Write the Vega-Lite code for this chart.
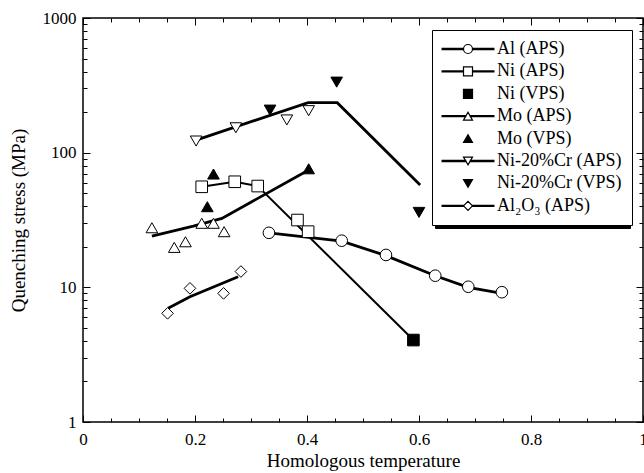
{
  "$schema": "https://vega.github.io/schema/vega-lite/v6.json",
  "width": 560,
  "height": 404,
  "autosize": {"type": "none"},
  "padding": {"left": 83, "top": 18, "right": 1, "bottom": 51},
  "background": "white",
  "config": {
    "font": "Liberation Serif",
    "view": {"stroke": "black", "strokeWidth": 1.5},
    "axis": {
      "domain": false, "grid": false, "tickColor": "black", "tickWidth": 1,
      "labelColor": "black", "labelFontSize": 17, "labelFont": "Liberation Serif",
      "titleFont": "Liberation Serif", "titleFontSize": 19, "titleFontWeight": "normal", "titleColor": "black",
      "labelFlush": false, "labelOverlap": false
    },
    "legend": {"labelFont": "Liberation Serif", "labelFontSize": 18, "labelColor": "black"}
  },
  "datasets": {
    "pts": [
      {"series": "Al (APS)", "x": 0.332, "y": 25.4},
      {"series": "Al (APS)", "x": 0.462, "y": 22.2},
      {"series": "Al (APS)", "x": 0.541, "y": 17.4},
      {"series": "Al (APS)", "x": 0.629, "y": 12.2},
      {"series": "Al (APS)", "x": 0.688, "y": 10.1},
      {"series": "Al (APS)", "x": 0.748, "y": 9.2},
      {"series": "Ni (APS)", "x": 0.212, "y": 55.8},
      {"series": "Ni (APS)", "x": 0.271, "y": 60.8},
      {"series": "Ni (APS)", "x": 0.312, "y": 56.5},
      {"series": "Ni (APS)", "x": 0.383, "y": 31.6},
      {"series": "Ni (APS)", "x": 0.402, "y": 25.9},
      {"series": "Ni (VPS)", "x": 0.590, "y": 4.06},
      {"series": "Mo (APS)", "x": 0.123, "y": 27.7},
      {"series": "Mo (APS)", "x": 0.163, "y": 19.8},
      {"series": "Mo (APS)", "x": 0.183, "y": 21.8},
      {"series": "Mo (APS)", "x": 0.212, "y": 29.9},
      {"series": "Mo (APS)", "x": 0.233, "y": 29.9},
      {"series": "Mo (APS)", "x": 0.252, "y": 25.9},
      {"series": "Mo (VPS)", "x": 0.233, "y": 69.4},
      {"series": "Mo (VPS)", "x": 0.222, "y": 39.7},
      {"series": "Mo (VPS)", "x": 0.403, "y": 75.9},
      {"series": "Ni-20%Cr (APS)", "x": 0.202, "y": 122},
      {"series": "Ni-20%Cr (APS)", "x": 0.273, "y": 153},
      {"series": "Ni-20%Cr (APS)", "x": 0.364, "y": 175},
      {"series": "Ni-20%Cr (APS)", "x": 0.403, "y": 205},
      {"series": "Ni-20%Cr (VPS)", "x": 0.334, "y": 207},
      {"series": "Ni-20%Cr (VPS)", "x": 0.453, "y": 334},
      {"series": "Ni-20%Cr (VPS)", "x": 0.600, "y": 36},
      {"series": "Al₂O₃ (APS)", "x": 0.151, "y": 6.41},
      {"series": "Al₂O₃ (APS)", "x": 0.191, "y": 9.83},
      {"series": "Al₂O₃ (APS)", "x": 0.251, "y": 9.02},
      {"series": "Al₂O₃ (APS)", "x": 0.282, "y": 13.1}
    ],
    "fits": [
      {"fit": "NiCr", "i": 1, "x": 0.202, "y": 124},
      {"fit": "NiCr", "i": 2, "x": 0.402, "y": 235},
      {"fit": "NiCr", "i": 3, "x": 0.454, "y": 235},
      {"fit": "NiCr", "i": 4, "x": 0.602, "y": 57.5},
      {"fit": "Mo", "i": 1, "x": 0.123, "y": 24.0},
      {"fit": "Mo", "i": 2, "x": 0.197, "y": 28.5},
      {"fit": "Mo", "i": 3, "x": 0.248, "y": 32.5},
      {"fit": "Mo", "i": 4, "x": 0.403, "y": 74.3},
      {"fit": "Ni", "i": 1, "x": 0.212, "y": 55.8},
      {"fit": "Ni", "i": 2, "x": 0.271, "y": 60.8},
      {"fit": "Ni", "i": 3, "x": 0.312, "y": 56.5},
      {"fit": "Ni", "i": 4, "x": 0.590, "y": 4.06},
      {"fit": "Al", "i": 1, "x": 0.332, "y": 25.4},
      {"fit": "Al", "i": 2, "x": 0.462, "y": 22.0},
      {"fit": "Al", "i": 3, "x": 0.541, "y": 17.2},
      {"fit": "Al", "i": 4, "x": 0.629, "y": 12.2},
      {"fit": "Al", "i": 5, "x": 0.688, "y": 10.0},
      {"fit": "Al", "i": 6, "x": 0.748, "y": 9.0},
      {"fit": "Al2O3", "i": 1, "x": 0.152, "y": 6.98},
      {"fit": "Al2O3", "i": 2, "x": 0.191, "y": 8.51},
      {"fit": "Al2O3", "i": 3, "x": 0.277, "y": 12.0}
    ]
  },
  "layer": [
    {
      "data": {"name": "fits"},
      "transform": [{"filter": "datum.fit !== 'Ni'"}],
      "mark": {"type": "line", "color": "black", "strokeWidth": 2.8, "strokeCap": "butt"},
      "encoding": {
        "x": {
          "field": "x", "type": "quantitative",
          "scale": {"domain": [0, 1], "nice": false, "zero": false},
          "axis": {
            "orient": "bottom",
            "values": [0, 0.05, 0.1, 0.15, 0.2, 0.25, 0.3, 0.35, 0.4, 0.45, 0.5, 0.55, 0.6, 0.65, 0.7, 0.75, 0.8, 0.85, 0.9, 0.95, 1],
            "format": "~g",
            "labelExpr": "indexof([0,0.2,0.4,0.6,0.8,1], datum.value) >= 0 ? datum.label : ''",
            "tickSize": {"expr": "indexof([0,0.2,0.4,0.6,0.8,1], datum.value) >= 0 ? -7 : -4"},
            "labelPadding": 16,
            "title": "Homologous temperature",
            "titleX": 280, "titleY": 44, "titleBaseline": "alphabetic", "titleAnchor": "middle"
          }
        },
        "y": {
          "field": "y", "type": "quantitative",
          "scale": {"type": "log", "domain": [1, 1000], "nice": false},
          "axis": {
            "orient": "left",
            "values": [1, 2, 3, 4, 5, 6, 7, 8, 9, 10, 20, 30, 40, 50, 60, 70, 80, 90, 100, 200, 300, 400, 500, 600, 700, 800, 900, 1000],
            "format": "d",
            "labelExpr": "indexof([1,10,100,1000], datum.value) >= 0 ? datum.label : ''",
            "tickSize": {"expr": "indexof([1,10,100,1000], datum.value) >= 0 ? -7 : -4"},
            "labelPadding": 14,
            "title": "Quenching stress (MPa)",
            "titleX": -59, "titleY": 202, "titleBaseline": "alphabetic", "titleAngle": -90, "titleAnchor": "middle"
          }
        },
        "detail": {"field": "fit"},
        "order": {"field": "i"}
      }
    },
    {
      "data": {"name": "fits"},
      "transform": [{"filter": "datum.fit === 'Ni'"}],
      "mark": {"type": "line", "color": "black", "strokeWidth": 2, "strokeCap": "butt"},
      "encoding": {
        "x": {"field": "x", "type": "quantitative", "axis": null},
        "y": {"field": "y", "type": "quantitative", "axis": null},
        "order": {"field": "i"}
      }
    },
    {
      "data": {"name": "pts"},
      "mark": {
        "type": "point", "filled": true, "stroke": "black", "strokeWidth": 1, "size": 135, "opacity": 1,
        "shape": {"expr": "datum.value==='Al (APS)'?'M-5.75,-0.125H-1V0.125H-5.75Z M1,-0.125H5.75V0.125H1Z M-1,0A1,1,0,1,1,1,0A1,1,0,1,1,-1,0Z':datum.value==='Ni (APS)'?'M-5.75,-0.125H-1V0.125H-5.75Z M1,-0.125H5.75V0.125H1Z M-1,-1H1V1H-1Z':datum.value==='Ni (VPS)'?'square':datum.value==='Mo (APS)'?'M-5.75,-0.125H-0.5V0.125H-5.75Z M0.5,-0.125H5.75V0.125H0.5Z M0,-0.866L1,0.866H-1Z':datum.value==='Mo (VPS)'?'triangle-up':datum.value==='Ni-20%Cr (APS)'?'M-5.75,-0.125H-0.5V0.125H-5.75Z M0.5,-0.125H5.75V0.125H0.5Z M0,0.866L1,-0.866H-1Z':datum.value==='Ni-20%Cr (VPS)'?'triangle-down':datum.value==='Al₂O₃ (APS)'?'M-5.75,-0.125H-1V0.125H-5.75Z M1,-0.125H5.75V0.125H1Z M-1,0L0,-1L1,0L0,1Z':'circle'"}
      },
      "encoding": {
        "x": {
          "field": "x", "type": "quantitative",
          "axis": {
            "orient": "top", "labels": false, "title": null,
            "values": [0, 0.05, 0.1, 0.15, 0.2, 0.25, 0.3, 0.35, 0.4, 0.45, 0.5, 0.55, 0.6, 0.65, 0.7, 0.75, 0.8, 0.85, 0.9, 0.95, 1],
            "tickSize": {"expr": "indexof([0,0.2,0.4,0.6,0.8,1], datum.value) >= 0 ? -7 : -4"}
          }
        },
        "y": {
          "field": "y", "type": "quantitative",
          "axis": {
            "orient": "right", "labels": false, "title": null,
            "values": [1, 2, 3, 4, 5, 6, 7, 8, 9, 10, 20, 30, 40, 50, 60, 70, 80, 90, 100, 200, 300, 400, 500, 600, 700, 800, 900, 1000],
            "tickSize": {"expr": "indexof([1,10,100,1000], datum.value) >= 0 ? -7 : -4"}
          }
        },
        "shape": {
          "field": "series", "type": "nominal",
          "scale": {
            "domain": ["Ni (APS)", "Al (APS)", "Ni (VPS)", "Mo (APS)", "Mo (VPS)", "Ni-20%Cr (APS)", "Ni-20%Cr (VPS)", "Al₂O₃ (APS)"],
            "range": ["square", "circle", "square", "triangle-up", "triangle-up", "triangle-down", "triangle-down", "diamond"]
          },
          "legend": null
        },
        "fill": {
          "field": "series", "type": "nominal",
          "scale": {
            "domain": ["Al (APS)", "Ni (APS)", "Ni (VPS)", "Mo (APS)", "Mo (VPS)", "Ni-20%Cr (APS)", "Ni-20%Cr (VPS)", "Al₂O₃ (APS)"],
            "range": ["white", "white", "black", "white", "black", "white", "black", "white"]
          },
          "legend": {
            "orient": "none", "legendX": 349, "legendY": 12, "title": null,
            "padding": 10, "rowPadding": 4.4, "symbolSize": 81, "symbolStrokeWidth": 1.2,
            "symbolOffset": 17, "labelOffset": 20,
            "fillColor": "white", "strokeColor": "black", "zindex": 2,
            "encode": {
              "legend": {"strokeWidth": {"value": 1.6}},
              "symbols": {
                "stroke": {"value": "black"},
                "strokeWidth": {"value": 1.2},
                "opacity": {"value": 1},
                "size": {"value": 81}
              }
            }
          }
        },
        "opacity": {
          "field": "series", "type": "nominal",
          "scale": {
            "domain": ["Al₂O₃ (APS)", "Ni-20%Cr (VPS)", "Ni-20%Cr (APS)", "Mo (VPS)", "Mo (APS)", "Ni (VPS)", "Ni (APS)", "Al (APS)"],
            "range": [1, 1]
          },
          "legend": {
            "orient": "none", "legendX": 352, "legendY": 15, "title": null,
            "padding": 10, "rowPadding": 4.4, "symbolSize": 81, "symbolStrokeWidth": 1.2,
            "symbolOffset": 17, "labelOffset": 140,
            "labelExpr": "' '",
            "fillColor": "black", "strokeColor": "black", "labelColor": "black", "zindex": 1,
            "encode": {
              "legend": {"strokeWidth": {"value": 1.6}},
              "symbols": {"fill": {"value": "black"}, "stroke": {"value": "black"}, "strokeWidth": {"value": 1.2}}
            }
          }
        }
      }
    }
  ],
  "resolve": {"axis": {"x": "independent", "y": "independent"}}
}
